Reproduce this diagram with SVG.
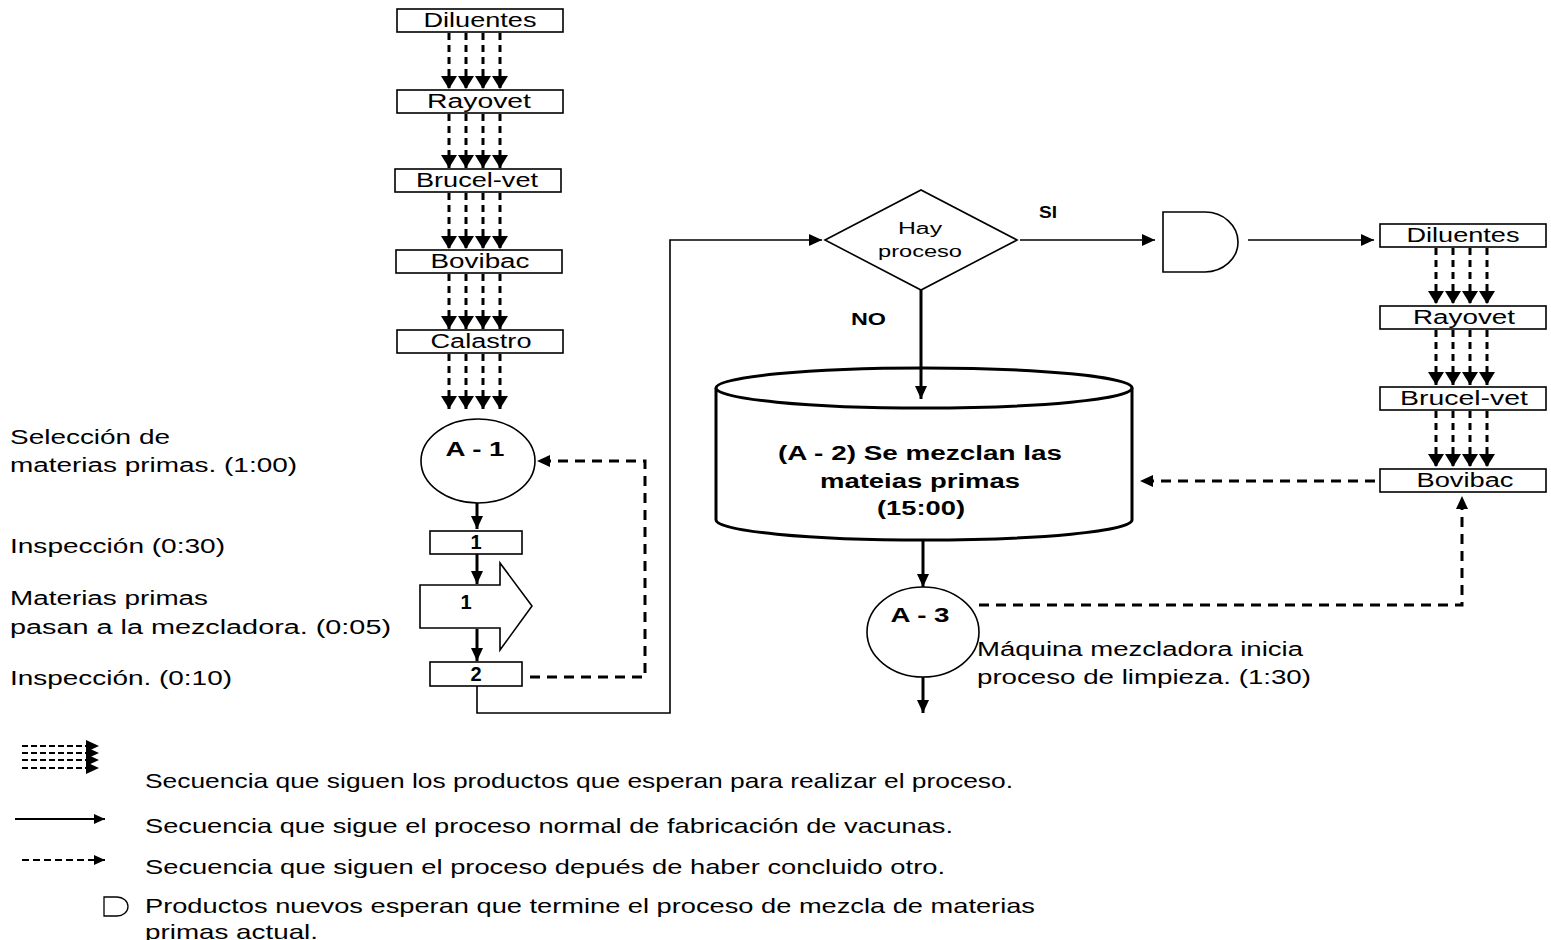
<svg xmlns="http://www.w3.org/2000/svg" width="1551" height="940" viewBox="0 0 1551 940">
<style>
text{font-family:"Liberation Sans",Arial,sans-serif;fill:#000}
.lbl{font-size:20px}
.lg{font-size:21px}
.box{fill:#fff;stroke:#000;stroke-width:1.6}
.bt{font-size:20px;text-anchor:middle}
.bold{font-weight:bold}
.st{fill:none;stroke:#000;stroke-width:3;stroke-dasharray:7 5}
.sol{fill:none;stroke:#000;stroke-width:3}
.thin{fill:none;stroke:#000;stroke-width:1.6}
.dash{fill:none;stroke:#000;stroke-width:3;stroke-dasharray:10 7}
</style>
<defs>
<marker id="ah" markerUnits="userSpaceOnUse" markerWidth="13" markerHeight="12" refX="13" refY="6" orient="auto">
<path d="M0,0 L13,6 L0,12 z" fill="#000"/>
</marker>
<marker id="ahw" markerUnits="userSpaceOnUse" markerWidth="13" markerHeight="16" refX="13" refY="8" orient="auto">
<path d="M0,0 L13,8 L0,16 z" fill="#000"/>
</marker>
<marker id="ahs" markerUnits="userSpaceOnUse" markerWidth="11" markerHeight="10" refX="11" refY="5" orient="auto">
<path d="M0,0 L11,5 L0,10 z" fill="#000"/>
</marker>
</defs>

<g id="connectors">
<g id="stackL" class="st">
<line x1="449" y1="33" x2="449" y2="89" marker-end="url(#ahw)"/>
<line x1="466" y1="33" x2="466" y2="89" marker-end="url(#ahw)"/>
<line x1="483" y1="33" x2="483" y2="89" marker-end="url(#ahw)"/>
<line x1="500" y1="33" x2="500" y2="89" marker-end="url(#ahw)"/>
<line x1="449" y1="114" x2="449" y2="168" marker-end="url(#ahw)"/>
<line x1="466" y1="114" x2="466" y2="168" marker-end="url(#ahw)"/>
<line x1="483" y1="114" x2="483" y2="168" marker-end="url(#ahw)"/>
<line x1="500" y1="114" x2="500" y2="168" marker-end="url(#ahw)"/>
<line x1="449" y1="193" x2="449" y2="249" marker-end="url(#ahw)"/>
<line x1="466" y1="193" x2="466" y2="249" marker-end="url(#ahw)"/>
<line x1="483" y1="193" x2="483" y2="249" marker-end="url(#ahw)"/>
<line x1="500" y1="193" x2="500" y2="249" marker-end="url(#ahw)"/>
<line x1="449" y1="274" x2="449" y2="329" marker-end="url(#ahw)"/>
<line x1="466" y1="274" x2="466" y2="329" marker-end="url(#ahw)"/>
<line x1="483" y1="274" x2="483" y2="329" marker-end="url(#ahw)"/>
<line x1="500" y1="274" x2="500" y2="329" marker-end="url(#ahw)"/>
<line x1="449" y1="354" x2="449" y2="409" marker-end="url(#ahw)"/>
<line x1="466" y1="354" x2="466" y2="409" marker-end="url(#ahw)"/>
<line x1="483" y1="354" x2="483" y2="409" marker-end="url(#ahw)"/>
<line x1="500" y1="354" x2="500" y2="409" marker-end="url(#ahw)"/>
</g>
<g id="stackR" class="st">
<line x1="1436" y1="248" x2="1436" y2="304" marker-end="url(#ahw)"/>
<line x1="1453" y1="248" x2="1453" y2="304" marker-end="url(#ahw)"/>
<line x1="1470" y1="248" x2="1470" y2="304" marker-end="url(#ahw)"/>
<line x1="1487" y1="248" x2="1487" y2="304" marker-end="url(#ahw)"/>
<line x1="1436" y1="330" x2="1436" y2="385" marker-end="url(#ahw)"/>
<line x1="1453" y1="330" x2="1453" y2="385" marker-end="url(#ahw)"/>
<line x1="1470" y1="330" x2="1470" y2="385" marker-end="url(#ahw)"/>
<line x1="1487" y1="330" x2="1487" y2="385" marker-end="url(#ahw)"/>
<line x1="1436" y1="411" x2="1436" y2="467" marker-end="url(#ahw)"/>
<line x1="1453" y1="411" x2="1453" y2="467" marker-end="url(#ahw)"/>
<line x1="1470" y1="411" x2="1470" y2="467" marker-end="url(#ahw)"/>
<line x1="1487" y1="411" x2="1487" y2="467" marker-end="url(#ahw)"/>
</g>
<line class="sol" x1="477" y1="503" x2="477" y2="529" marker-end="url(#ah)"/>
<line class="sol" x1="477" y1="554" x2="477" y2="584" marker-end="url(#ah)"/>
<line class="sol" x1="477" y1="629" x2="477" y2="661" marker-end="url(#ah)"/>
<path class="dash" d="M530,677 H645 V461 H537" marker-end="url(#ah)"/>
<path class="thin" d="M477,686 V713 H670 V240 H822" marker-end="url(#ah)"/>
<line class="thin" stroke-width="2.2" x1="1020" y1="240" x2="1155" y2="240" marker-end="url(#ah)"/>
<line class="thin" stroke-width="2.2" x1="1248" y1="240" x2="1374" y2="240" marker-end="url(#ah)"/>
<line class="sol" x1="921" y1="290" x2="921" y2="399" marker-end="url(#ah)"/>
<path class="dash" d="M1375,481 H1140" marker-end="url(#ah)"/>
<line class="sol" x1="923" y1="540" x2="923" y2="587" marker-end="url(#ah)"/>
<path class="dash" d="M979,605 H1462 V496" marker-end="url(#ah)"/>
<line class="sol" x1="923" y1="677" x2="923" y2="713" marker-end="url(#ah)"/>
</g>

<g id="n-diluentesL"><rect class="box" x="397" y="9" width="166" height="23"/><text class="bt" x="480" y="27" textLength="113" lengthAdjust="spacingAndGlyphs">Diluentes</text></g>
<g id="n-rayovetL"><rect class="box" x="397" y="90" width="166" height="23"/><text class="bt" x="479" y="108" textLength="104" lengthAdjust="spacingAndGlyphs">Rayovet</text></g>
<g id="n-brucelL"><rect class="box" x="395" y="169" width="166" height="23"/><text class="bt" x="477" y="187" textLength="122" lengthAdjust="spacingAndGlyphs">Brucel-vet</text></g>
<g id="n-bovibacL"><rect class="box" x="396" y="250" width="166" height="23"/><text class="bt" x="480" y="268" textLength="99" lengthAdjust="spacingAndGlyphs">Bovibac</text></g>
<g id="n-calastro"><rect class="box" x="397" y="330" width="166" height="23"/><text class="bt" x="481" y="348" textLength="101" lengthAdjust="spacingAndGlyphs">Calastro</text></g>

<g id="n-a1"><ellipse cx="478" cy="461" rx="57" ry="42" fill="#fff" stroke="#000" stroke-width="1.6"/><text class="bt bold" x="475" y="456" textLength="59" lengthAdjust="spacingAndGlyphs">A - 1</text></g>
<g id="n-insp1"><rect class="box" x="430" y="531" width="92" height="23"/><text class="bt bold" x="476" y="549">1</text></g>
<g id="n-trans1"><path class="box" d="M420,585 H500 V563 L532,606 L500,650 V628 H420 Z"/><text class="bt bold" x="466" y="609">1</text></g>
<g id="n-insp2"><rect class="box" x="430" y="662" width="92" height="24"/><text class="bt bold" x="476" y="681">2</text></g>

<g id="n-decision"><path class="box" d="M825,240 L921,190 L1017,240 L921,290 Z"/><text x="920" y="234" text-anchor="middle" font-size="16" textLength="44" lengthAdjust="spacingAndGlyphs">Hay</text><text x="920" y="257" text-anchor="middle" font-size="16" textLength="84" lengthAdjust="spacingAndGlyphs">proceso</text></g>
<text class="bold" x="1039" y="218" font-size="16" textLength="18" lengthAdjust="spacingAndGlyphs">SI</text>
<text class="bold" x="851" y="325" font-size="16" textLength="35" lengthAdjust="spacingAndGlyphs">NO</text>

<g id="n-delay"><path class="box" d="M1163,212 H1205 A33,30 0 0 1 1205,272 H1163 Z"/></g>

<g id="n-diluentesR"><rect class="box" x="1380" y="224" width="166" height="23"/><text class="bt" x="1463" y="242" textLength="113" lengthAdjust="spacingAndGlyphs">Diluentes</text></g>
<g id="n-rayovetR"><rect class="box" x="1380" y="306" width="166" height="23"/><text class="bt" x="1464" y="324" textLength="102" lengthAdjust="spacingAndGlyphs">Rayovet</text></g>
<g id="n-brucelR"><rect class="box" x="1380" y="387" width="166" height="23"/><text class="bt" x="1464" y="405" textLength="128" lengthAdjust="spacingAndGlyphs">Brucel-vet</text></g>
<g id="n-bovibacR"><rect class="box" x="1380" y="469" width="166" height="23"/><text class="bt" x="1465" y="487" textLength="97" lengthAdjust="spacingAndGlyphs">Bovibac</text></g>

<g id="n-a2">
<path d="M716,388 V520 A208,20 0 0 0 1132,520 V388" fill="#fff" stroke="#000" stroke-width="3"/>
<ellipse cx="924" cy="388" rx="208" ry="20" fill="#fff" stroke="#000" stroke-width="3"/>
<text class="bt bold" x="920" y="460" textLength="284" lengthAdjust="spacingAndGlyphs">(A - 2) Se mezclan las</text>
<text class="bt bold" x="920" y="488" textLength="200" lengthAdjust="spacingAndGlyphs">mateias primas</text>
<text class="bt bold" x="921" y="515" textLength="88" lengthAdjust="spacingAndGlyphs">(15:00)</text>
</g>
<line class="sol" x1="921" y1="368" x2="921" y2="399" marker-end="url(#ah)"/>

<g id="n-a3"><ellipse cx="923" cy="632" rx="56" ry="45" fill="#fff" stroke="#000" stroke-width="1.6"/><text class="bt bold" x="920" y="622" textLength="59" lengthAdjust="spacingAndGlyphs">A - 3</text></g>
<text class="lbl" x="977" y="656" textLength="326" lengthAdjust="spacingAndGlyphs">Máquina mezcladora inicia</text>
<text class="lbl" x="977" y="684" textLength="334" lengthAdjust="spacingAndGlyphs">proceso de limpieza. (1:30)</text>

<g id="side-labels">
<text class="lbl" x="10" y="444" textLength="160" lengthAdjust="spacingAndGlyphs">Selección de</text>
<text class="lbl" x="10" y="472" textLength="287" lengthAdjust="spacingAndGlyphs">materias primas. (1:00)</text>
<text class="lbl" x="10" y="553" textLength="215" lengthAdjust="spacingAndGlyphs">Inspección (0:30)</text>
<text class="lbl" x="10" y="605" textLength="198" lengthAdjust="spacingAndGlyphs">Materias primas</text>
<text class="lbl" x="10" y="634" textLength="381" lengthAdjust="spacingAndGlyphs">pasan a la mezcladora. (0:05)</text>
<text class="lbl" x="10" y="685" textLength="222" lengthAdjust="spacingAndGlyphs">Inspección. (0:10)</text>
</g>

<g id="legend">
<g fill="none" stroke="#000" stroke-width="2" stroke-dasharray="6 3">
<line x1="22" y1="746" x2="88" y2="746"/>
<line x1="22" y1="753" x2="88" y2="753"/>
<line x1="22" y1="760" x2="88" y2="760"/>
<line x1="22" y1="768" x2="88" y2="768"/>
</g>
<path d="M86,740 L99,746 L86,752 Z M86,747 L99,753 L86,759 Z M86,754 L99,760 L86,766 Z M86,762 L99,768 L86,774 Z" fill="#000"/>
<text class="lg" x="145" y="788" textLength="868" lengthAdjust="spacingAndGlyphs">Secuencia que siguen los productos que esperan para realizar el proceso.</text>
<line x1="15" y1="819" x2="105" y2="819" stroke="#000" stroke-width="2" marker-end="url(#ahs)"/>
<text class="lg" x="145" y="833" textLength="808" lengthAdjust="spacingAndGlyphs">Secuencia que sigue el proceso normal de fabricación de vacunas.</text>
<line x1="22" y1="860" x2="105" y2="860" stroke="#000" stroke-width="2" stroke-dasharray="7 4" marker-end="url(#ahs)"/>
<text class="lg" x="145" y="874" textLength="800" lengthAdjust="spacingAndGlyphs">Secuencia que siguen el proceso depués de haber concluido otro.</text>
<path d="M104,897 H117 A11,9.5 0 0 1 117,916 H104 Z" fill="#fff" stroke="#000" stroke-width="1.3"/>
<text class="lg" x="145" y="913" textLength="890" lengthAdjust="spacingAndGlyphs">Productos nuevos esperan que termine el proceso de mezcla de materias</text>
<text class="lg" x="145" y="939" textLength="173" lengthAdjust="spacingAndGlyphs">primas actual.</text>
</g>
</svg>
